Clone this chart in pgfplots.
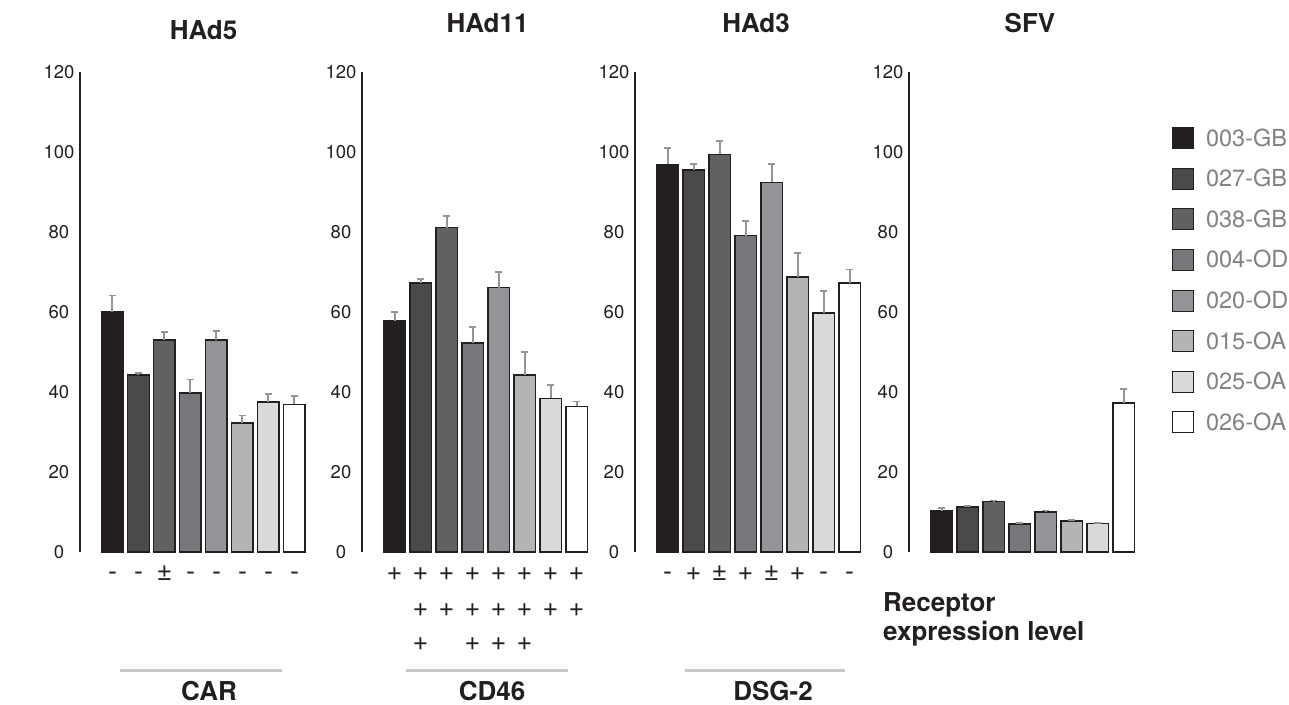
\documentclass[border=0pt]{standalone}
\usepackage{pgfplots}
\pgfplotsset{compat=1.18}
\usepackage{fontspec}
\setmainfont{TeX Gyre Heros}
\definecolor{c1}{HTML}{231F20}
\definecolor{c2}{HTML}{4A4A4C}
\definecolor{c3}{HTML}{606163}
\definecolor{c4}{HTML}{76777A}
\definecolor{c5}{HTML}{939598}
\definecolor{c6}{HTML}{B3B4B6}
\definecolor{c7}{HTML}{D9DADB}
\definecolor{c8}{HTML}{FFFFFF}
\definecolor{edge}{HTML}{231F20}
\definecolor{errc}{HTML}{939598}
\definecolor{legtext}{HTML}{808285}
\definecolor{linegray}{HTML}{C7C8CA}
\tikzset{sign/.style={anchor=base, font=\fontsize{27}{27}\selectfont, text=edge, inner sep=0pt}}
\pgfplotsset{
  every error bar/.append style={line width=2pt, color=errc},
  panel/.style={
    scale only axis, width=224.9pt, height=480pt,
    xmin=-1.25, xmax=7.4, ymin=0, ymax=120,
    axis y line*=left, axis x line=none,
    y axis line style={line width=1.5pt, color=edge},
    ytick={0,20,...,120}, xtick=\empty,
    major tick length=0pt,
    /pgf/number format/assume math mode=true,
    yticklabel style={font=\fontsize{18.5}{18.5}\selectfont, anchor=center, xshift=-21pt, text=edge},
    ybar, bar width=21.5pt,
    clip=false,
    anchor=south west,
    error bars/y dir=plus, error bars/y explicit,
    error bars/error mark=-,
    error bars/error bar style={line width=2pt, color=errc},
    error bars/error mark options={rotate=90, mark size=3.8pt, line width=1.8pt, color=errc},
  },
  b/.style={fill=#1, draw=edge, line width=1.5pt, bar shift=0pt},
}
\begin{document}
\begin{tikzpicture}
\path[use as bounding box] (0,0) rectangle (1289pt,704pt);

% HAd5
\begin{axis}[panel, at={(80pt,152pt)}]
\addplot[b=c1] coordinates {(0,60.0) +- (0,4.1)};
\addplot[b=c2] coordinates {(1,44.2) +- (0,0.5)};
\addplot[b=c3] coordinates {(2,53.0) +- (0,2.0)};
\addplot[b=c4] coordinates {(3,39.7) +- (0,3.4)};
\addplot[b=c5] coordinates {(4,53.0) +- (0,2.3)};
\addplot[b=c6] coordinates {(5,32.3) +- (0,1.8)};
\addplot[b=c7] coordinates {(6,37.5) +- (0,1.9)};
\addplot[b=c8] coordinates {(7,36.9) +- (0,2.0)};
\node[sign, yshift=-28pt] at (axis cs:0,0) {-};
\node[sign, yshift=-28pt] at (axis cs:1,0) {-};
\node[sign, yshift=-28pt] at (axis cs:2,0) {±};
\node[sign, yshift=-28pt] at (axis cs:3,0) {-};
\node[sign, yshift=-28pt] at (axis cs:4,0) {-};
\node[sign, yshift=-28pt] at (axis cs:5,0) {-};
\node[sign, yshift=-28pt] at (axis cs:6,0) {-};
\node[sign, yshift=-28pt] at (axis cs:7,0) {-};
\end{axis}

% HAd11
\begin{axis}[panel, at={(362pt,152pt)}]
\addplot[b=c1] coordinates {(0,57.7) +- (0,2.3)};
\addplot[b=c2] coordinates {(1,67.2) +- (0,1.1)};
\addplot[b=c3] coordinates {(2,81.1) +- (0,2.8)};
\addplot[b=c4] coordinates {(3,52.3) +- (0,3.9)};
\addplot[b=c5] coordinates {(4,66.1) +- (0,3.8)};
\addplot[b=c6] coordinates {(5,44.3) +- (0,5.7)};
\addplot[b=c7] coordinates {(6,38.4) +- (0,3.3)};
\addplot[b=c8] coordinates {(7,36.4) +- (0,1.2)};
\node[sign, yshift=-28pt] at (axis cs:0,0) {+};
\node[sign, yshift=-28pt] at (axis cs:1,0) {+};
\node[sign, yshift=-28pt] at (axis cs:2,0) {+};
\node[sign, yshift=-28pt] at (axis cs:3,0) {+};
\node[sign, yshift=-28pt] at (axis cs:4,0) {+};
\node[sign, yshift=-28pt] at (axis cs:5,0) {+};
\node[sign, yshift=-28pt] at (axis cs:6,0) {+};
\node[sign, yshift=-28pt] at (axis cs:7,0) {+};
\node[sign, yshift=-64pt] at (axis cs:1,0) {+};
\node[sign, yshift=-64pt] at (axis cs:2,0) {+};
\node[sign, yshift=-64pt] at (axis cs:3,0) {+};
\node[sign, yshift=-64pt] at (axis cs:4,0) {+};
\node[sign, yshift=-64pt] at (axis cs:5,0) {+};
\node[sign, yshift=-64pt] at (axis cs:6,0) {+};
\node[sign, yshift=-64pt] at (axis cs:7,0) {+};
\node[sign, yshift=-98pt] at (axis cs:1,0) {+};
\node[sign, yshift=-98pt] at (axis cs:3,0) {+};
\node[sign, yshift=-98pt] at (axis cs:4,0) {+};
\node[sign, yshift=-98pt] at (axis cs:5,0) {+};
\end{axis}

% HAd3
\begin{axis}[panel, at={(635pt,152pt)}]
\addplot[b=c1] coordinates {(0,96.9) +- (0,4.0)};
\addplot[b=c2] coordinates {(1,95.5) +- (0,1.4)};
\addplot[b=c3] coordinates {(2,99.4) +- (0,3.4)};
\addplot[b=c4] coordinates {(3,79.1) +- (0,3.6)};
\addplot[b=c5] coordinates {(4,92.4) +- (0,4.5)};
\addplot[b=c6] coordinates {(5,68.7) +- (0,6.1)};
\addplot[b=c7] coordinates {(6,59.7) +- (0,5.5)};
\addplot[b=c8] coordinates {(7,67.2) +- (0,3.4)};
\node[sign, yshift=-28pt] at (axis cs:0,0) {-};
\node[sign, yshift=-28pt] at (axis cs:1,0) {+};
\node[sign, yshift=-28pt] at (axis cs:2,0) {±};
\node[sign, yshift=-28pt] at (axis cs:3,0) {+};
\node[sign, yshift=-28pt] at (axis cs:4,0) {±};
\node[sign, yshift=-28pt] at (axis cs:5,0) {+};
\node[sign, yshift=-28pt] at (axis cs:6,0) {-};
\node[sign, yshift=-28pt] at (axis cs:7,0) {-};
\end{axis}

% SFV
\begin{axis}[panel, at={(909pt,152pt)},
  legend style={at={(rel axis cs:1.1694,0.8854)}, anchor=north west, draw=none, fill=none,
    font=\fontsize{23.5}{23.5}\selectfont, text=legtext, row sep=18.7pt, column sep=12pt,
    inner sep=0pt, nodes={inner sep=0pt}},
  legend cell align=left,
  legend image code/.code={\draw[#1, line width=0.9pt] (0pt,-10.5pt) rectangle (21pt,10.5pt);},
]
\addplot[b=c1] coordinates {(0,10.3) +- (0,0.7)};
\addplot[b=c2] coordinates {(1,11.2) +- (0,0.3)};
\addplot[b=c3] coordinates {(2,12.6) +- (0,0.3)};
\addplot[b=c4] coordinates {(3,7.0) +- (0,0.3)};
\addplot[b=c5] coordinates {(4,10.0) +- (0,0.4)};
\addplot[b=c6] coordinates {(5,7.8) +- (0,0.2)};
\addplot[b=c7] coordinates {(6,7.1) +- (0,0.2)};
\addplot[b=c8] coordinates {(7,37.2) +- (0,3.6)};
\legend{003-GB,027-GB,038-GB,004-OD,020-OD,015-OA,025-OA,026-OA}
\end{axis}

% titles and labels
\begin{scope}[every node/.style={anchor=base, font=\bfseries\fontsize{26}{26}\selectfont, text=edge, inner sep=0pt}]
\node at (203.5pt,664pt) {HAd5};
\node at (487.5pt,671pt) {HAd11};
\node at (756pt,671pt) {HAd3};
\node at (1030pt,671pt) {SFV};
\node at (209pt,3.5pt) {CAR};
\node at (492pt,3.5pt) {CD46};
\node at (773pt,3.5pt) {DSG-2};
\node[anchor=base west] at (883pt,93pt) {Receptor};
\node[anchor=base west] at (883pt,64pt) {expression level};
\end{scope}
\draw[linegray, line width=3pt] (120pt,34pt) -- (282pt,34pt);
\draw[linegray, line width=3pt] (406pt,34pt) -- (568pt,34pt);
\draw[linegray, line width=3pt] (685pt,34pt) -- (845pt,34pt);
\end{tikzpicture}
\end{document}
